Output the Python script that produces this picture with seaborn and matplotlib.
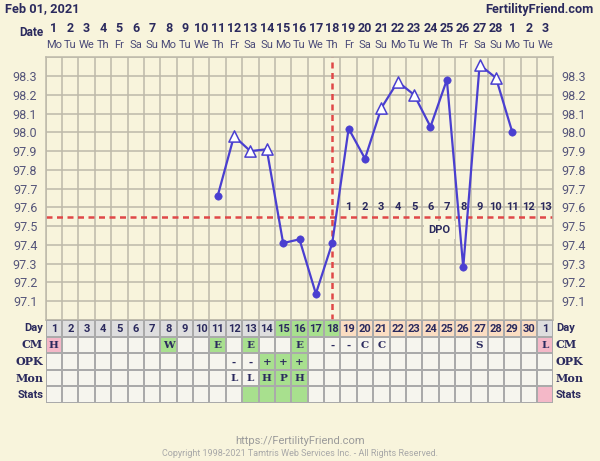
import numpy as np
import pandas as pd
import matplotlib
matplotlib.use("Agg")
import matplotlib.pyplot as plt
import matplotlib.transforms as mtransforms
from matplotlib.colors import ListedColormap
import seaborn as sns

# ---------------- data ----------------
cycle_days = [11, 12, 13, 14, 15, 16, 17, 18, 19, 20, 21, 22, 23, 24, 25, 26, 27, 28, 29]
temps = [97.66, 97.98, 97.90, 97.91, 97.41, 97.43, 97.14, 97.41, 98.02, 97.86,
         98.13, 98.27, 98.20, 98.03, 98.28, 97.28, 98.36, 98.29, 98.00]
point_kind = ["dot", "tri", "tri", "tri", "dot", "dot", "dot", "dot", "dot", "dot",
              "tri", "tri", "tri", "dot", "dot", "dot", "tri", "tri", "dot"]
coverline = 97.55
ovulation_day = 18
dpo_labels = [str(i) for i in range(1, 14)]
dpo_days = list(range(19, 32))

date_labels = [str(i) for i in range(1, 29)] + ["1", "2", "3"]
weekday_labels = (["Mo", "Tu", "We", "Th", "Fr", "Sa", "Su"] * 5)[:31]
day_labels = [str(i) for i in range(1, 31)] + ["1"]
cm_labels = {1: "H", 8: "W", 11: "E", 13: "E", 16: "E", 18: "-", 19: "-", 20: "C", 21: "C", 27: "S", 31: "L"}
opk_labels = {12: "-", 13: "-", 14: "+", 15: "+", 16: "+"}
mon_labels = {12: "L", 13: "L", 14: "H", 15: "P", 16: "H"}
row_names = ["Day", "CM", "OPK", "Mon", "Stats"]
ytick_vals = [round(97.0 + 0.1 * i, 1) for i in range(15)]
ytick_labels = ["" if v in (97.0, 98.4) else f"{v:.1f}" for v in ytick_vals]

# cell colour codes: 0 blank, 1 grey, 2 green, 3 peach, 4 pink
day_codes = [1] * 14 + [2] * 4 + [3] * 12 + [1]
cm_codes = {1: 4, 8: 2, 11: 2, 13: 2, 16: 2, 31: 4}
opk_codes = {14: 2, 15: 2, 16: 2}
mon_codes = {14: 2, 15: 2, 16: 2}
stats_codes = {13: 2, 14: 2, 15: 2, 16: 2, 31: 4}

# ---------------- style ----------------
BG = "#F8F4DC"
GRID = "#BDB9AA"
NAVY = "#2B2A5E"
LINE = "#4A3FD0"
RED = "#E04848"

sns.set_style("white")
plt.rcParams["font.family"] = ["Roboto", "DejaVu Sans"]

fig = plt.figure(figsize=(6.0, 4.61), dpi=100, facecolor=BG)
W, H = 600, 461
left, right = 45.7, 553.3
ptop, pbot = 57.3, 320.0
tbot = 403.0

ax = fig.add_axes([left / W, 1 - pbot / H, (right - left) / W, (pbot - ptop) / H])
ax.set_facecolor(BG)
ax.set_xlim(0.5, 31.5)
ax.set_ylim(97.0, 98.4)
ax.set_xticks(np.arange(0.5, 32, 1))
ax.set_xticklabels([])
ax.set_yticks(ytick_vals)
ax.set_yticklabels(ytick_labels)
ax.tick_params(axis="y", length=0, labelsize=9, labelcolor="#55557a", labelright=True, pad=6)
ax.tick_params(axis="x", length=0)
ax.grid(True, color=GRID, lw=1.1)
ax.set_axisbelow(True)
for s in ax.spines.values():
    s.set_color(GRID)
    s.set_linewidth(1.1)

df = pd.DataFrame({"day": cycle_days, "temp": temps, "kind": point_kind})
sns.lineplot(data=df, x="day", y="temp", ax=ax, color=LINE, lw=1.6, zorder=3)
dots = df[df.kind == "dot"]
tris = df[df.kind == "tri"]
sns.scatterplot(data=dots, x="day", y="temp", ax=ax, color=LINE, s=28, marker="o",
                edgecolor=LINE, zorder=4)
sns.scatterplot(data=tris, x="day", y="temp", ax=ax, color="white", s=65, marker="^",
                edgecolor=LINE, linewidth=1.1, zorder=4)
ax.set_xlabel("")
ax.set_ylabel("")

ax.axhline(coverline, color=RED, lw=1.8, ls=(0, (2.4, 1.8)), zorder=2)
ax.axvline(ovulation_day, color=RED, lw=1.8, ls=(0, (2.4, 1.8)), zorder=2)

for d, lab in zip(dpo_days, dpo_labels):
    ax.text(d, 97.60, lab, ha="center", va="center", fontsize=8, fontweight="bold",
            color=NAVY, zorder=5)
ax.text(24.55, 97.48, "DPO", ha="center", va="center", fontsize=8, fontweight="bold",
        color=NAVY, zorder=5, bbox=dict(facecolor=BG, edgecolor="none", pad=3))

# header
trans = mtransforms.blended_transform_factory(ax.transData, fig.transFigure)
for i, (d, w) in enumerate(zip(date_labels, weekday_labels)):
    ax.text(i + 1, 1 - 29 / H, d, transform=trans, ha="center", va="center",
            fontsize=9, fontweight="bold", color=NAVY)
    ax.text(i + 1, 1 - 45 / H, w, transform=trans, ha="center", va="center",
            fontsize=8, color="#4a4a78")
fig.text(43 / W, 1 - 32 / H, "Date", ha="right", va="center", fontsize=8.5,
         fontweight="bold", color=NAVY)
fig.text(5 / W, 1 - 9 / H, "Feb 01, 2021", ha="left", va="center", fontsize=9.2,
         fontweight="bold", color=NAVY)
fig.text(594 / W, 1 - 9 / H, "FertilityFriend.com", ha="right", va="center", fontsize=9.2,
         fontweight="bold", color=NAVY)

# table
tab = fig.add_axes([left / W, 1 - tbot / H, (right - left) / W, (tbot - pbot) / H])
codes = np.zeros((5, 31), dtype=int)
texts = np.full((5, 31), "", dtype=object)
for i in range(31):
    codes[0, i] = day_codes[i]
    texts[0, i] = day_labels[i]
for r, (labs, cods) in enumerate([(cm_labels, cm_codes), (opk_labels, opk_codes),
                                  (mon_labels, mon_codes), ({}, stats_codes)], start=1):
    for d, t in labs.items():
        texts[r, d - 1] = t
    for d, c in cods.items():
        codes[r, d - 1] = c
cmap = ListedColormap(["#F6F5EE", "#DEDEDE", "#A8E08E", "#FBDDC2", "#F4B8C8"])
sns.heatmap(codes, ax=tab, cmap=cmap, vmin=-0.5, vmax=4.5, cbar=False,
            annot=False, linewidths=1.1, linecolor="#AAAAAA",
            xticklabels=False, yticklabels=False)
for r in range(5):
    for c in range(31):
        t = texts[r, c]
        if t:
            fam = "Roboto" if r == 0 else "DejaVu Serif"
            tab.text(c + 0.5, r + 0.55, t, ha="center", va="center", fontsize=8 if r == 0 else 7.5,
                     fontweight="bold", family=fam, color=NAVY)
for s in tab.spines.values():
    s.set_visible(False)
for r, name in enumerate(row_names):
    fam = "DejaVu Serif" if name in ("CM", "OPK", "Mon") else "Roboto"
    tab.text(-0.15, r + 0.5, name, ha="right", va="center", fontsize=8,
             fontweight="bold", color=NAVY, family=fam)
    tab.text(31.15, r + 0.5, name, ha="left", va="center", fontsize=8,
             fontweight="bold", color=NAVY, family=fam)

fig.text(0.5, 1 - 441 / H, "https://FertilityFriend.com", ha="center", va="center",
         fontsize=8, color="#9a9a9a")
fig.text(0.5, 1 - 453 / H, "Copyright 1998-2021 Tamtris Web Services Inc. - All Rights Reserved.",
         ha="center", va="center", fontsize=6.5, color="#a8a8a8")

fig.savefig("out.png", dpi=100, facecolor=BG)
